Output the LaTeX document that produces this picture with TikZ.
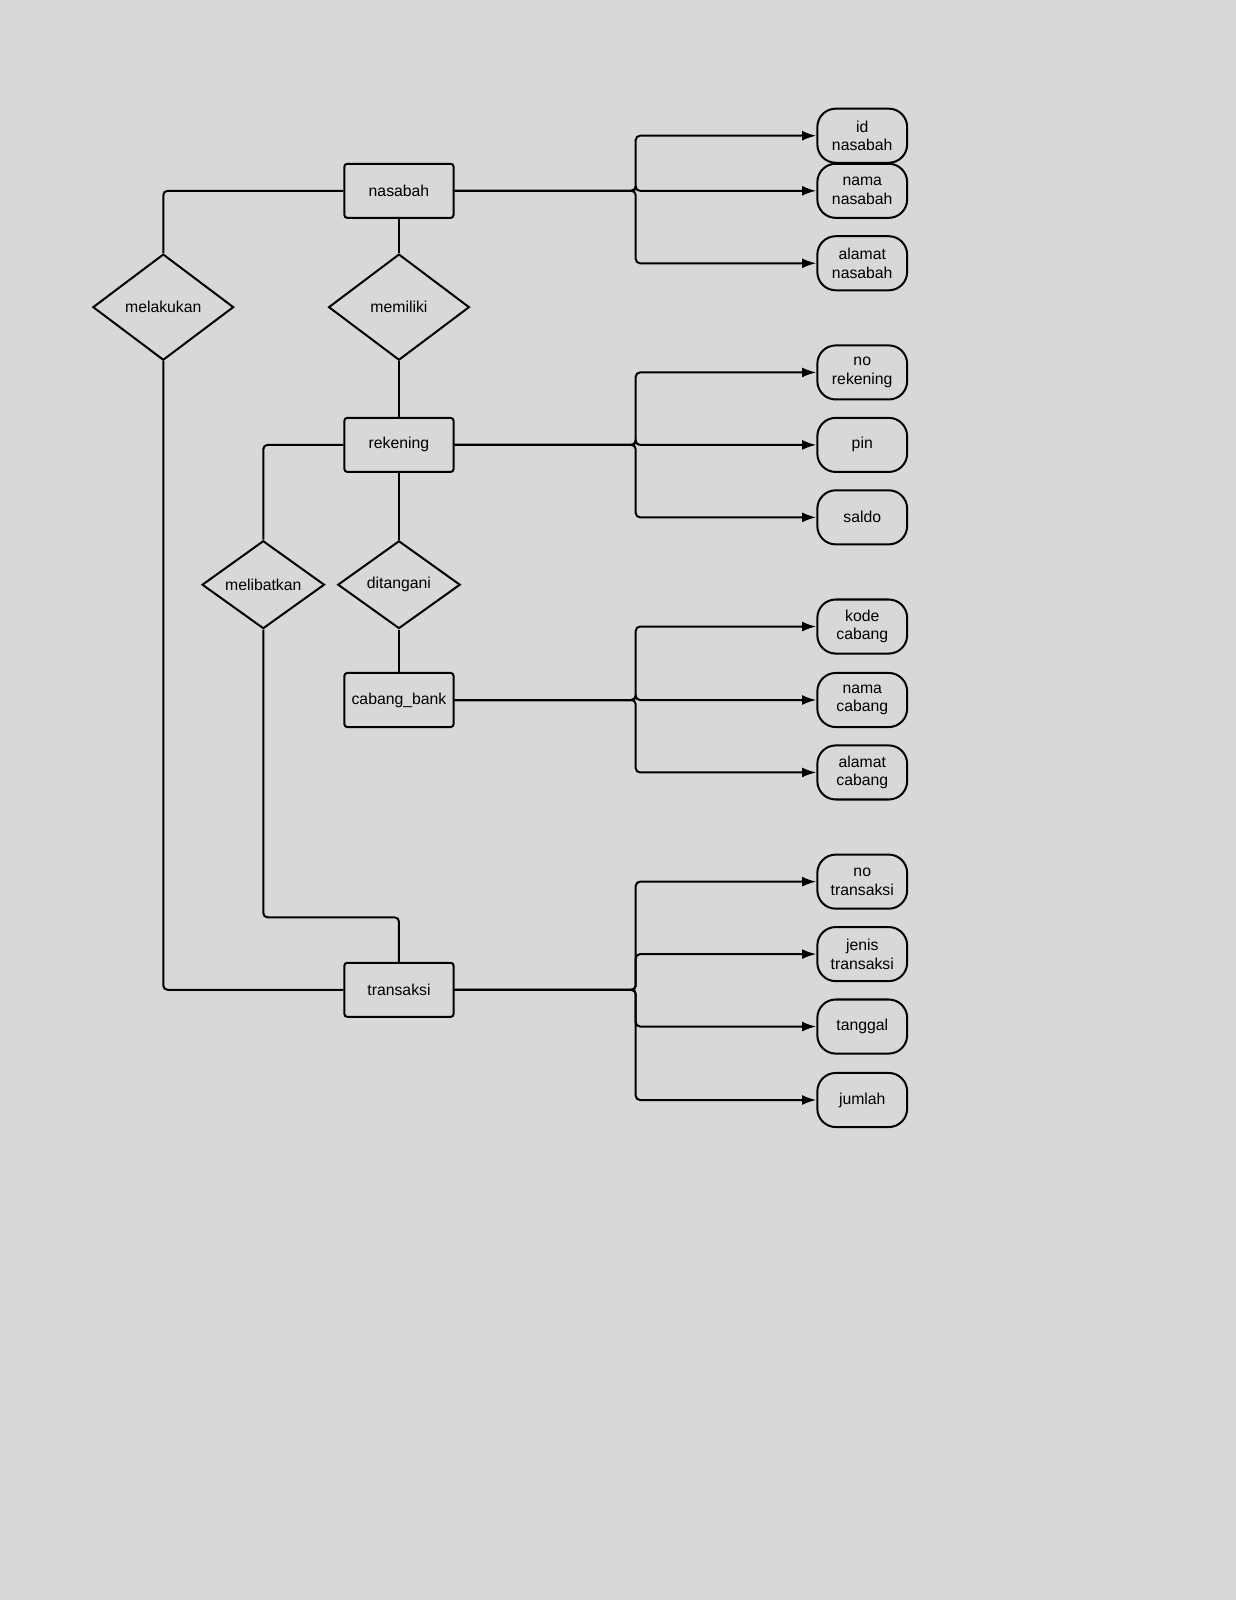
\documentclass[tikz,border=0pt]{standalone}
\usepackage{fontspec}
\setmainfont{Liberation Sans}
\usetikzlibrary{shapes.geometric,arrows.meta}
\begin{document}
\begin{tikzpicture}[x=0.05cm,y=-0.05cm,line width=2.8pt,
  every node/.style={font=\fontsize{22}{26}\selectfont,align=center,draw,fill=bg,line width=2.8pt},
  ent/.style={rectangle,rounded corners=4pt,minimum width=5.35cm,minimum height=2.65cm,inner sep=1pt},
  rel/.style={diamond,inner sep=0pt},
  attr/.style={rectangle,rounded corners=0.9cm,minimum width=4.4cm,minimum height=2.65cm,inner sep=1pt},
  con/.style={rounded corners=6pt},
  arr/.style={con,-{Latex[length=20pt,width=14pt]}}]
\definecolor{bg}{HTML}{D8D8D8}
\fill[bg] (0,0) rectangle (1211,1568);
\useasboundingbox (0,0) rectangle (1211,1568);
\node[ent] (nas) at (391,187) {nasabah};
\node[ent] (rek) at (391,436) {rekening};
\node[ent] (cab) at (391,686) {cabang\_bank};
\node[ent] (tra) at (391,970) {transaksi};
\node[rel,minimum width=6.9cm,minimum height=5.2cm] (mel) at (160,301) {melakukan};
\node[rel,minimum width=6.9cm,minimum height=5.2cm] (mem) at (391,301) {memiliki};
\node[rel,minimum width=6cm,minimum height=4.3cm] (mlb) at (258,573) {melibatkan};
\node[rel,minimum width=6cm,minimum height=4.3cm] (dit) at (391,573) {ditangani};
\foreach \n/\y/\t in {a1/133/id\\nasabah,a2/187/nama\\nasabah,a3/258/alamat\\nasabah,
  b1/365/no\\rekening,b2/436/pin,b3/507/saldo,
  c1/614/kode\\cabang,c2/686/nama\\cabang,c3/757/alamat\\cabang,
  d1/864/no\\transaksi,d2/935/jenis\\transaksi,d3/1006/tanggal,d4/1078/jumlah}
  \node[attr] (\n) at (845,\y) {\t};
\draw (nas) -- (mem) -- (rek) -- (dit) -- (cab);
\draw[con] (nas.west) -| (mel.north);
\draw[con] (mel.south) |- (tra.west);
\draw[con] (rek.west) -| (mlb.north);
\draw[con] (mlb.south) |- (391,899) -- (tra.north);
\foreach \e/\ys in {nas/{a1,a2,a3},rek/{b1,b2,b3},cab/{c1,c2,c3},tra/{d1,d2,d3,d4}}
  \foreach \a in \ys
    \draw[arr] (\e.east) -- (623,0 |- \e.east) |- (\a.west);
\end{tikzpicture}
\end{document}
